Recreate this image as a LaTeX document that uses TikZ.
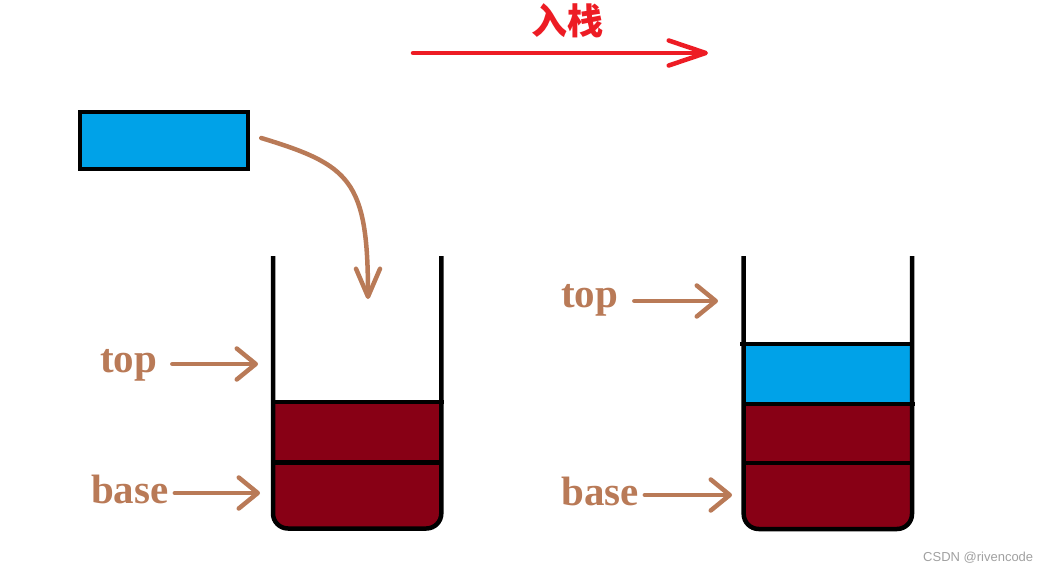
\documentclass[tikz,border=0pt]{standalone}
\usepackage{fontspec}
\newfontfamily\cjkfont{Noto Sans CJK SC}
\newfontfamily\wmfont{Liberation Sans}
\newfontfamily\lblfont{Liberation Serif}
\usetikzlibrary{arrows.meta}
\definecolor{pblue}{HTML}{00A2E8}
\definecolor{pdred}{HTML}{880015}
\definecolor{pbrown}{HTML}{B97A57}
\definecolor{pred}{HTML}{ED1C24}
\definecolor{wmgray}{HTML}{A0A0A0}
\begin{document}
\begin{tikzpicture}[x=1pt,y=-1pt,
  wall/.style={line width=4.5pt,black,rounded corners=15pt},
  sep/.style={line width=4.3pt,black},
  lbl/.style={font=\lblfont\bfseries\fontsize{41}{41}\selectfont,text=pbrown,inner sep=0pt,anchor=base west},
  lblarrow/.style={line width=4.5pt,pbrown,line cap=round,
    -{Straight Barb[length=19pt,width=31pt,round]}},
  redarrow/.style={line width=4.5pt,pred,line cap=round,
    -{Straight Barb[length=37pt,width=25pt,round]}},
  curvearrow/.style={line width=4.5pt,pbrown,line cap=round,
    -{Straight Barb[length=28pt,width=24pt,round]}}
]
\useasboundingbox (0,0) rectangle (1058,573);

% top title arrow
\coordinate (ra) at (413,53);
\coordinate (rb) at (708,53);
\draw[redarrow] (ra) -- (rb);
\node[font=\cjkfont\bfseries\fontsize{36}{36}\selectfont,text=pred,inner sep=0pt] (title) at (567,21) {入栈};

% block to push
\node[draw=black,line width=4.5pt,fill=pblue,minimum width=168pt,minimum height=57pt,inner sep=0pt] (blk) at (164,140.5) {};
\coordinate (curveend) at (368,299);
\draw[curvearrow] ([xshift=11pt,yshift=2.5pt]blk.east) .. controls (350,165) and (368,180) .. (curveend);

% left stack
\fill[pdred,rounded corners=15pt] (273,402) -- (273,528.5) -- (441.3,528.5) -- (441.3,402);
\draw[sep] (273,402) -- (444,402);
\draw[sep] (273,462.5) -- (441.3,462.5);
\draw[wall] (273,256) -- (273,528.5) -- (441.3,528.5) -- (441.3,256);

% right stack
\fill[pblue] (743.7,344) rectangle (912,403.7);
\fill[pdred,rounded corners=15pt] (743.7,403.7) -- (743.7,529) -- (912,529) -- (912,403.7);
\draw[sep] (740,344) -- (912,344);
\draw[sep] (743.7,403.7) -- (915,403.7);
\draw[sep] (743.7,463.3) -- (912,463.3);
\draw[wall] (743.7,256) -- (743.7,529) -- (912,529) -- (912,256);

% labels left
\node[lbl] (topL) at (100,372) {top};
\node[lbl] (baseL) at (91,503) {base};
\coordinate (topLtip) at (258,364);
\coordinate (baseLtip) at (260,493);
\draw[lblarrow] (topLtip -| topL.east) ++(15,0) -- (topLtip);
\draw[lblarrow] (baseLtip -| baseL.east) ++(6,0) -- (baseLtip);

% labels right
\node[lbl] (topR) at (561,307) {top};
\node[lbl] (baseR) at (561,505) {base};
\coordinate (topRtip) at (718,301);
\coordinate (baseRtip) at (732,495);
\draw[lblarrow] (topRtip -| topR.east) ++(16,0) -- (topRtip);
\draw[lblarrow] (baseRtip -| baseR.east) ++(6,0) -- (baseRtip);

% watermark
\node[font=\wmfont\fontsize{13}{13}\selectfont,text=wmgray,anchor=west,inner sep=0pt] (wm) at (923,558) {CSDN @rivencode};
\end{tikzpicture}
\end{document}
